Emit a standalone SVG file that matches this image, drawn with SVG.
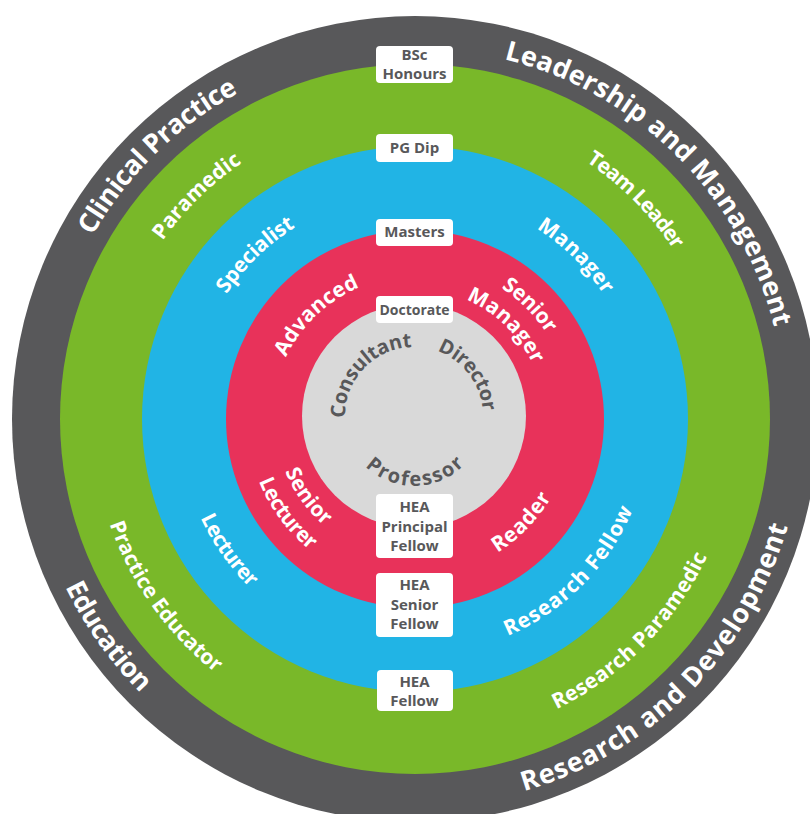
<svg xmlns="http://www.w3.org/2000/svg" xmlns:xlink="http://www.w3.org/1999/xlink" width="810" height="814" viewBox="0 0 810 814">
  <style>
    .lbl { font-family: "Open Sans", "Liberation Sans", sans-serif; font-weight: 700; text-anchor: middle; }
    .outer { font-size: 27px; fill: #ffffff; }
    .ring { font-size: 21px; fill: #ffffff; }
    .core { font-size: 20px; fill: #58585a; }
    .box { fill: #ffffff; }
    .boxt { font-family: "Open Sans", "Liberation Sans", sans-serif; font-weight: 700; font-size: 15px; fill: #58585a; text-anchor: middle; }
  </style>
  <defs>
    <path id="u371" d="M44,419 A371,371 0 0 1 786,419"/>
    <path id="u309" d="M106,419 A309,309 0 0 1 724,419"/>
    <path id="u226" d="M189,419 A226,226 0 0 1 641,419"/>
    <path id="u143" d="M272,419 A143,143 0 0 1 558,419"/>
    <path id="u157" d="M258,419 A157,157 0 0 1 572,419"/>
    <path id="u130" d="M285,419 A130,130 0 0 1 545,419"/>
    <path id="l388" d="M27,419 A388,388 0 0 0 803,419"/>
    <path id="l323" d="M92,419 A323,323 0 0 0 738,419"/>
    <path id="l236" d="M179,419 A236,236 0 0 0 651,419"/>
    <path id="l157" d="M258,419 A157,157 0 0 0 572,419"/>
    <path id="l140" d="M275,419 A140,140 0 0 0 555,419"/>
    <path id="l168" d="M247,419 A168,168 0 0 0 583,419"/>
    <path id="gu69" d="M345,416 A69,69 0 0 1 483,416"/>
    <path id="gl70" d="M344,416 A70,70 0 0 0 484,416"/>
  </defs>

  <g id="ring-outer">
    <circle cx="415" cy="419" r="403" fill="#58585a"/>
  </g>
  <g id="ring-green">
    <circle cx="415" cy="419" r="355" fill="#79b829"/>
  </g>
  <g id="ring-blue">
    <circle cx="415" cy="419" r="273" fill="#21b4e5"/>
  </g>
  <g id="ring-red">
    <circle cx="415" cy="419" r="189" fill="#e8325a"/>
  </g>
  <g id="core">
    <circle cx="414" cy="416" r="112" fill="#d9d9d9"/>
  </g>

  <g id="outer-labels">
    <text class="lbl outer" transform="rotate(-44.4 415 419)"><textPath xlink:href="#u371" startOffset="50%" textLength="207">Clinical Practice</textPath></text>
    <text class="lbl outer" transform="rotate(44.8 415 419)"><textPath xlink:href="#u371" startOffset="50%" textLength="400">Leadership and Management</textPath></text>
    <text class="lbl outer" transform="rotate(54.7 415 419)"><textPath xlink:href="#l388" startOffset="50%" textLength="131">Education</textPath></text>
    <text class="lbl outer" transform="rotate(-45.15 415 419)"><textPath xlink:href="#l388" startOffset="50%" textLength="390">Research and Development</textPath></text>
  </g>

  <g id="green-labels">
    <text class="lbl ring" transform="rotate(-44.4 415 419)"><textPath xlink:href="#u309" startOffset="50%" textLength="112">Paramedic</textPath></text>
    <text class="lbl ring" transform="rotate(45.2 415 419)"><textPath xlink:href="#u309" startOffset="50%" textLength="125">Team Leader</textPath></text>
    <text class="lbl ring" transform="rotate(54.6 415 419)"><textPath xlink:href="#l323" startOffset="50%" textLength="185">Practice Educator</textPath></text>
    <text class="lbl ring" transform="rotate(-45.4 415 419)"><textPath xlink:href="#l323" startOffset="50%" textLength="219">Research Paramedic</textPath></text>
  </g>

  <g id="blue-labels">
    <text class="lbl ring" transform="rotate(-44.2 415 419)"><textPath xlink:href="#u226" startOffset="50%" textLength="97">Specialist</textPath></text>
    <text class="lbl ring" transform="rotate(44.55 415 419)"><textPath xlink:href="#u226" startOffset="50%" textLength="95">Manager</textPath></text>
    <text class="lbl ring" transform="rotate(54.85 415 419)"><textPath xlink:href="#l236" startOffset="50%" textLength="86">Lecturer</textPath></text>
    <text class="lbl ring" transform="rotate(-45.25 415 419)"><textPath xlink:href="#l236" startOffset="50%" textLength="182">Research Fellow</textPath></text>
  </g>

  <g id="red-labels">
    <text class="lbl ring" transform="rotate(-43.65 415 419)"><textPath xlink:href="#u143" startOffset="50%" textLength="104">Advanced</textPath></text>
    <text class="lbl ring" transform="rotate(45.2 415 419)"><textPath xlink:href="#u157" startOffset="50%" textLength="65">Senior</textPath></text>
    <text class="lbl ring" transform="rotate(44.05 415 419)"><textPath xlink:href="#u130" startOffset="50%" textLength="95">Manager</textPath></text>
    <text class="lbl ring" transform="rotate(54.2 415 419)"><textPath xlink:href="#l140" startOffset="50%" textLength="68">Senior</textPath></text>
    <text class="lbl ring" transform="rotate(53.55 415 419)"><textPath xlink:href="#l168" startOffset="50%" textLength="87">Lecturer</textPath></text>
    <text class="lbl ring" transform="rotate(-45.9 415 419)"><textPath xlink:href="#l157" startOffset="50%" textLength="78">Reader</textPath></text>
  </g>

  <g id="core-labels">
    <text class="lbl core" transform="rotate(-46.7 414 416)"><textPath xlink:href="#gu69" startOffset="50%" textLength="108">Consultant</textPath></text>
    <text class="lbl core" transform="rotate(52.75 414 416)"><textPath xlink:href="#gu69" startOffset="50%" textLength="80">Director</textPath></text>
    <text class="lbl core" transform="rotate(-0.95 414 416)"><textPath xlink:href="#gl70" startOffset="50%" textLength="110">Professor</textPath></text>
  </g>

  <g id="box-bsc">
    <rect class="box" x="376" y="46" width="77" height="37" rx="4"/>
    <text class="boxt"><tspan x="414.5" y="60">BSc</tspan><tspan x="414.5" y="79">Honours</tspan></text>
  </g>
  <g id="box-pgdip">
    <rect class="box" x="376" y="134" width="77" height="28" rx="4"/>
    <text class="boxt" x="414.5" y="153">PG Dip</text>
  </g>
  <g id="box-masters">
    <rect class="box" x="376" y="219" width="77" height="27" rx="4"/>
    <text class="boxt" x="414.5" y="237">Masters</text>
  </g>
  <g id="box-doctorate">
    <rect class="box" x="376" y="296" width="77" height="27" rx="4"/>
    <text class="boxt" x="414.5" y="315" style="font-size:14px">Doctorate</text>
  </g>
  <g id="box-hea-principal">
    <rect class="box" x="376" y="494" width="77" height="64" rx="4"/>
    <text class="boxt"><tspan x="414.5" y="512">HEA</tspan><tspan x="414.5" y="532">Principal</tspan><tspan x="414.5" y="551">Fellow</tspan></text>
  </g>
  <g id="box-hea-senior">
    <rect class="box" x="376" y="573" width="77" height="64" rx="4"/>
    <text class="boxt"><tspan x="414.5" y="590">HEA</tspan><tspan x="414.5" y="610">Senior</tspan><tspan x="414.5" y="629">Fellow</tspan></text>
  </g>
  <g id="box-hea-fellow">
    <rect class="box" x="377" y="670" width="76" height="41" rx="4"/>
    <text class="boxt"><tspan x="414.5" y="687">HEA</tspan><tspan x="414.5" y="706">Fellow</tspan></text>
  </g>
</svg>
